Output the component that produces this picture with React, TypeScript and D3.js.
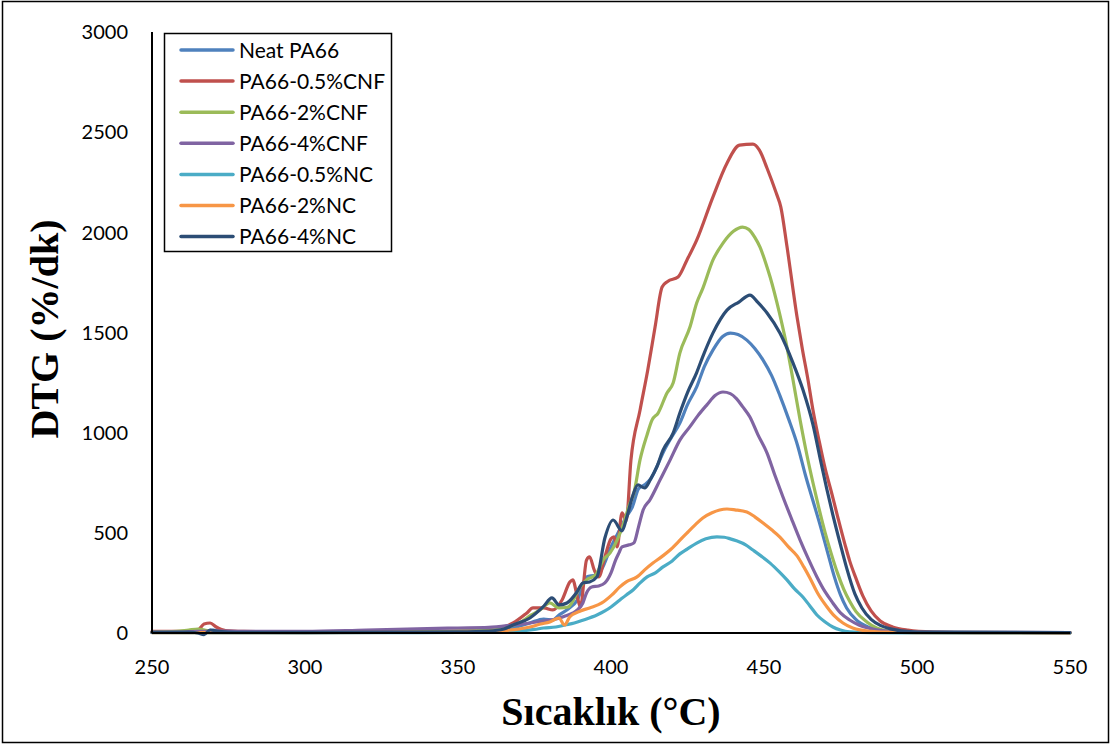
import React from "react";
import * as d3 from "d3";

type Pt = [number, number];

const xTicks = [250, 300, 350, 400, 450, 500, 550];
const yTicks = [0, 500, 1000, 1500, 2000, 2500, 3000];

const seriesNames = [
  "Neat PA66",
  "PA66-0.5%CNF",
  "PA66-2%CNF",
  "PA66-4%CNF",
  "PA66-0.5%NC",
  "PA66-2%NC",
  "PA66-4%NC",
];
const seriesColors = ["#4F81BD", "#C0504D", "#9BBB59", "#8064A2", "#4BACC6", "#F79646", "#2C4D75"];

const neatPA66: Pt[] = [
  [250, 3], [260, 3], [266, 6], [270, 15], [273, 6], [280, 3], [300, 2], [330, 5], [350, 8], [360, 12],
  [368, 25], [373.5, 50], [378, 70], [381, 65], [383, 90], [386, 120], [389, 165], [392, 280], [395, 290],
  [397, 320], [400, 430], [403, 520], [405, 580], [407, 630], [409, 720], [411, 740], [413, 770], [415, 830],
  [417, 900], [419.5, 970], [422.5, 1048], [425, 1140], [428, 1228], [430.5, 1330], [433.3, 1412],
  [436.5, 1480], [439, 1497], [441.5, 1490], [444.4, 1462], [447, 1420], [449.7, 1362], [452.5, 1285],
  [455.2, 1185], [458, 1070], [461, 935], [463.5, 790], [466, 660], [468.5, 530], [471, 390], [473, 280],
  [475, 190], [477, 125], [480, 68], [484, 30], [490, 10], [500, 3], [520, 2], [550, 1],
];

const pa66CNF05: Pt[] = [
  [250, 8], [260, 8], [265, 15], [267, 45], [269, 50], [271, 30], [274, 12], [280, 8], [300, 5], [330, 8],
  [350, 10], [360, 15], [365, 30], [368, 50], [372.5, 100], [374.5, 125], [378, 125], [381, 115], [384, 165],
  [386.6, 255], [387.5, 265], [389, 180], [390, 130], [392, 364], [393, 380], [394.5, 315], [396, 280],
  [398, 380], [400, 470], [401, 480], [402, 430], [403.6, 600], [405, 560], [406.5, 860], [409.5, 1113],
  [412, 1312], [414.4, 1527], [416.7, 1727], [418.5, 1755], [421.9, 1777], [424.8, 1861], [428, 1961],
  [433.3, 2176], [437.9, 2345], [442, 2435], [446.4, 2440], [448.5, 2410], [451, 2320], [454, 2196],
  [455.5, 2126], [457.5, 1930], [460.8, 1577], [462.5, 1420], [464.4, 1262], [466, 1113], [468, 960],
  [470, 820], [472, 705], [474, 585], [476.5, 440], [478, 360], [480, 275], [482.3, 185], [485, 110],
  [488, 60], [492, 30], [497, 14], [505, 5], [520, 2], [550, 2],
];

const pa66CNF2: Pt[] = [
  [250, 5], [258, 8], [262, 15], [265, 20], [268, 12], [272, 6], [280, 4], [300, 3], [330, 6], [350, 10],
  [360, 15], [366, 30], [370, 50], [374, 90], [376.8, 115], [380, 150], [383, 125], [386, 130], [389.9, 230],
  [392, 265], [395, 290], [397.4, 364], [399.7, 400], [402, 464], [404, 540], [406, 640], [407.5, 700],
  [409.5, 865], [411.8, 990], [413.4, 1063], [415.4, 1098], [418.3, 1198], [420.3, 1248], [422.5, 1397],
  [425.8, 1527], [428, 1647], [430, 1720], [433.3, 1861], [436.6, 1946], [440, 2005], [443, 2026],
  [445, 2015], [447, 1975], [448.7, 1926], [450.5, 1850], [452, 1777], [455, 1600], [457.5, 1427],
  [459.5, 1262], [461.8, 1063], [464, 890], [466, 750], [468, 620], [470, 500], [472, 395], [474, 300],
  [476, 220], [478, 158], [480, 108], [483.6, 55], [487, 24], [492, 8], [500, 3], [550, 1],
];

const pa66CNF4: Pt[] = [
  [250, 5], [260, 5], [265, 8], [270, 10], [280, 8], [300, 8], [320, 15], [340, 22], [350, 25], [360, 28],
  [368, 40], [373.5, 50], [378, 60], [382, 70], [385, 85], [387.6, 100], [389, 115], [390.8, 150], [392, 200],
  [393.7, 230], [396, 235], [398, 250], [400, 300], [401.5, 364], [402.6, 400], [403.6, 430], [406, 440],
  [407.5, 450], [409, 530], [410.5, 614], [412.7, 664], [416, 763], [419.3, 863], [422.5, 963], [425.8, 1030],
  [428.4, 1085], [431.4, 1140], [434, 1185], [436.6, 1203], [439, 1195], [441, 1170], [443, 1130],
  [445.4, 1078], [448, 990], [451, 898], [453.5, 790], [456.2, 679], [459, 570], [461.8, 464], [464.5, 370],
  [467.3, 280], [470, 205], [472.5, 150], [475, 100], [478, 65], [481, 40], [484, 25], [490, 10], [500, 4],
  [550, 2],
];

const pa66NC05: Pt[] = [
  [250, 2], [280, 1], [300, 1], [330, 2], [350, 3], [360, 5], [370, 10], [375, 18], [378, 25], [382, 30],
  [385, 40], [388, 50], [391, 65], [395.4, 90], [398, 110], [400, 130], [402.9, 165], [405, 190],
  [407.2, 215], [409.5, 250], [411.8, 280], [414.5, 300], [417, 330], [420, 360], [422.5, 395], [425, 420],
  [428, 449], [431, 470], [434.6, 480], [437, 478], [439, 470], [441, 460], [444, 440], [446.4, 414],
  [449, 385], [452, 349], [455, 305], [457.5, 265], [460, 220], [462.7, 180], [465, 135], [467.3, 90],
  [470, 55], [472.5, 30], [475, 15], [478, 6], [485, 2], [500, 1], [550, 0],
];

const pa66NC2: Pt[] = [
  [250, 2], [280, 2], [300, 2], [330, 3], [350, 5], [360, 8], [365, 12], [370, 20], [373.5, 30], [377, 45],
  [380, 55], [383, 75], [384.8, 40], [386.5, 80], [390, 110], [393, 125], [397, 150], [400.3, 190],
  [402.9, 230], [405, 255], [408.5, 280], [411, 315], [413.7, 349], [416.5, 380], [419.3, 414], [422, 455],
  [424.8, 499], [427.5, 540], [430, 574], [433, 600], [435.5, 614], [437.9, 619], [440.5, 615], [444.4, 604],
  [447, 580], [449.7, 549], [452.5, 515], [455.2, 479], [458, 430], [460.8, 385], [463, 330], [465, 275],
  [467.5, 200], [470.6, 130], [473, 85], [475.8, 50], [479, 25], [485, 8], [490, 4], [500, 2], [550, 1],
];

const pa66NC4: Pt[] = [
  [250, 3], [262, 5], [265, 0], [267, -8], [269, 15], [271, 10], [275, 5], [280, 3], [300, 3], [330, 4],
  [350, 6], [360, 10], [365, 20], [368, 40], [373.5, 75], [377.8, 130], [380.7, 175], [383, 140],
  [385.6, 150], [388.9, 205], [390.8, 250], [393, 255], [395.4, 280], [398, 474], [400.7, 564], [403.6, 510],
  [405.2, 580], [407, 680], [408.8, 739], [411, 724], [413, 770], [415, 830], [417, 913], [420.3, 998],
  [422.5, 1098], [425, 1200], [428, 1300], [430, 1380], [433.3, 1497], [437.9, 1612], [441.8, 1652],
  [445.4, 1687], [448, 1650], [451, 1597], [455.2, 1497], [459.5, 1347], [462.7, 1215], [466, 1040],
  [468.5, 860], [470.5, 720], [472.5, 590], [475, 440], [477, 325], [479.7, 195], [482, 125], [485, 68],
  [488, 38], [491, 22], [495, 11], [500, 5], [550, 2],
];

const seriesData = [neatPA66, pa66CNF05, pa66CNF2, pa66CNF4, pa66NC05, pa66NC2, pa66NC4];

export default function App() {
  const W = 1113;
  const H = 745;
  const x = d3.scaleLinear().domain([250, 550]).range([152, 1070]);
  const y = d3.scaleLinear().domain([0, 3000]).range([633, 32]);
  const line = d3
    .line<Pt>()
    .x((d) => x(d[0]))
    .y((d) => y(Math.max(d[1], -15)))
    .curve(d3.curveMonotoneX);

  const tickFont = "Lato, 'Noto Sans', sans-serif";
  const titleFont = "'Liberation Serif', 'DejaVu Serif', serif";

  return (
    <svg
      width={W}
      height={H}
      style={{ position: "absolute", left: 0, top: 0, background: "#fff" }}
    >
      <rect x={0} y={0} width={W} height={H} fill="#fff" />
      <rect x={2.5} y={1.5} width={1106} height={741} fill="none" stroke="#000" strokeWidth={1.5} />

      {/* series */}
      {seriesData.map((s, i) => (
        <path
          key={seriesNames[i]}
          d={line(s) || ""}
          fill="none"
          stroke={seriesColors[i]}
          strokeWidth={3.2}
          strokeLinejoin="round"
          strokeLinecap="round"
        />
      ))}

      {/* axes */}
      <line x1={x(250)} x2={x(550)} y1={y(0)} y2={y(0)} stroke="#000" strokeWidth={2} />
      <line x1={x(250)} x2={x(250)} y1={y(0)} y2={y(3000)} stroke="#000" strokeWidth={2} />

      {yTicks.map((t) => (
        <text
          key={"y" + t}
          x={128}
          y={y(t)}
          dy="0.36em"
          textAnchor="end"
          fontFamily={tickFont}
          fontSize={20}
          fill="#000"
        >
          {t}
        </text>
      ))}
      {xTicks.map((t) => (
        <text
          key={"x" + t}
          x={x(t)}
          y={674}
          textAnchor="middle"
          fontFamily={tickFont}
          fontSize={20}
          fill="#000"
        >
          {t}
        </text>
      ))}

      <text
        x={611}
        y={725}
        textAnchor="middle"
        fontFamily={titleFont}
        fontWeight="bold"
        fontSize={40}
        fill="#000"
      >
        Sıcaklık (°C)
      </text>
      <text
        transform={`translate(58,329) rotate(-90)`}
        textAnchor="middle"
        fontFamily={titleFont}
        fontWeight="bold"
        fontSize={40}
        fill="#000"
      >
        DTG (%/dk)
      </text>

      {/* legend */}
      <rect x={164.5} y={33.5} width={227} height={218} fill="#fff" stroke="#000" strokeWidth={1.5} />
      {seriesNames.map((n, i) => {
        const cy = 50 + i * 31.1;
        return (
          <g key={"lg" + n}>
            <line x1={181} x2={233} y1={cy} y2={cy} stroke={seriesColors[i]} strokeWidth={3.5} strokeLinecap="round" />
            <text x={239} y={cy} dy="0.36em" fontFamily={tickFont} fontSize={21} fill="#000">
              {n}
            </text>
          </g>
        );
      })}
    </svg>
  );
}
